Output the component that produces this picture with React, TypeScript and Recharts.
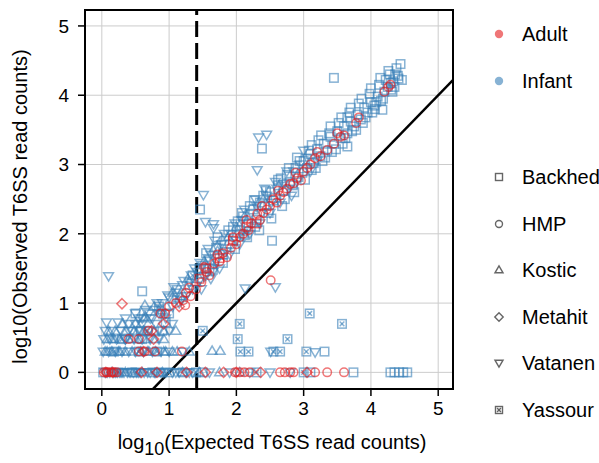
import {
  ScatterChart,
  Scatter,
  XAxis,
  YAxis,
  CartesianGrid,
  ReferenceLine,
  ReferenceArea,
} from 'recharts';

type Pt = [number, number];

const AXIS_TICKS = [0, 1, 2, 3, 4, 5];
const X_DOMAIN: [number, number] = [-0.25, 5.22];
const Y_DOMAIN: [number, number] = [-0.24, 5.23];
const THRESHOLD_X = 1.41;

const RED = '#e41a1c';
const BLUE = '#377eb8';
const FONT = '"Liberation Sans", Arial, Helvetica, sans-serif';

// infant samples
const infantBackhed: Pt[] = [
  [1.45, 1.5], [1.6, 1.62], [1.7, 1.8], [1.82, 1.9], [1.9, 1.85], [1.95, 2.1], [2.05, 2.05],
  [2.1, 2.25], [2.18, 2.15], [2.25, 2.35], [2.3, 2.2], [2.35, 2.45], [2.42, 2.4], [2.5, 2.6],
  [2.55, 2.48], [2.62, 2.7], [2.7, 2.62], [2.75, 2.85], [2.8, 2.75], [2.88, 2.95], [2.92, 2.82],
  [3.0, 3.05], [3.05, 2.95], [3.1, 3.15], [3.15, 3.02], [3.2, 3.22], [3.25, 3.12], [3.3, 3.3],
  [3.35, 3.2], [3.4, 3.4], [3.45, 3.3], [3.5, 3.48], [3.55, 3.38], [3.6, 3.55], [3.65, 3.45],
  [3.7, 3.62], [3.75, 3.55], [3.8, 3.72], [3.85, 3.65], [3.9, 3.82], [3.95, 3.75], [4.0, 3.9],
  [4.05, 3.85], [4.1, 3.98], [4.15, 3.92], [4.2, 4.05], [4.25, 4.12], [4.3, 4.18], [4.35, 4.12],
  [2.02, 2.18], [2.12, 1.98], [2.2, 2.4], [2.28, 2.1], [2.4, 2.55], [2.48, 2.3], [2.58, 2.52],
  [2.66, 2.8], [2.72, 2.5], [2.84, 2.7], [2.9, 3.1], [2.98, 2.88], [3.08, 3.2], [3.12, 2.92],
  [3.22, 3.35], [3.28, 3.05], [3.38, 3.45], [3.42, 3.18], [3.52, 3.6], [3.58, 3.3], [3.68, 3.75],
  [3.72, 3.48], [3.82, 3.88], [3.88, 3.6], [3.98, 4.02], [4.02, 3.75], [4.12, 4.15], [4.08, 3.9],
  [4.22, 4.22], [4.28, 4.3], [4.32, 4.05], [4.4, 4.28],
  [1.55, 1.72], [1.65, 1.48], [1.72, 1.95], [1.8, 1.58], [1.88, 2.05], [1.98, 1.78], [2.08, 2.3],
  [2.16, 1.95], [2.26, 2.48], [2.34, 2.05], [2.44, 2.62], [2.52, 2.22], [2.62, 2.78], [2.68, 2.4],
  [2.78, 2.95], [2.86, 2.6], [2.94, 3.05], [3.02, 2.78], [3.12, 3.28], [3.18, 2.95], [3.26, 3.42],
  [3.32, 3.1], [3.4, 3.55], [3.48, 3.22], [3.56, 3.68], [3.62, 3.38], [3.7, 3.82], [3.78, 3.5],
  [3.86, 3.95], [3.92, 3.68], [4.0, 4.1], [4.06, 3.8], [4.14, 4.25], [4.18, 3.95], [4.26, 4.35],
  [4.33, 4.2], [4.36, 4.3], [4.3, 4.08],
  [4.38, 4.39], [4.44, 4.45], [4.41, 4.24], [4.46, 4.22], [4.17, 3.79], [3.65, 3.26], [3.65, 3.68],
  [3.45, 4.25], [2.38, 3.23], [2.53, 1.9], [1.46, 2.35], [0.6, 1.17], [0.5, 0.85],
  [0.02, 0], [0.45, 0], [0.85, 0], [1.2, 0], [1.5, 0], [3.1, 0], [3.74, 0], [4.29, 0], [4.35, 0],
  [4.42, 0], [4.48, 0], [4.54, 0], [3.31, 0.3], [0.6, 0.48], [0.9, 0.6], [0.95, 0.72], [0.58, 0.6],
  [1.0, 0.85],
];

const infantKostic: Pt[] = [
  [0.64, 0.97], [1.64, 0.31], [1.76, 0.31],
  [0.5, 0.7], [0.65, 0.8], [0.78, 0.95], [0.9, 0.9], [1.05, 1.15], [1.18, 1.1], [1.28, 1.35],
  [1.4, 1.3], [1.52, 1.6], [1.65, 1.55], [1.72, 1.75], [1.88, 1.95], [2.0, 2.1], [2.12, 2.25],
  [2.25, 2.15], [2.4, 2.5],
  [0.15, 0], [0.35, 0], [0.6, 0], [0.9, 0], [1.2, 0], [1.45, 0], [1.75, 0], [2.05, 0],
  [0.08, 0.3], [0.25, 0.3], [0.45, 0.3], [0.7, 0.3], [0.95, 0.3], [0.15, 0.48], [0.4, 0.48],
  [0.65, 0.48], [0.2, 0.6], [0.48, 0.6], [0.78, 0.6], [0.3, 0.7], [0.62, 0.78],
  [0.05, 0.3], [0.15, 0.3], [0.27, 0.3], [0.35, 0.3], [0.58, 0.3], [0.68, 0.3], [0.8, 0.3],
  [0.92, 0.3], [1.05, 0.3], [1.12, 0.3], [1.3, 0.3],
  [0.08, 0.48], [0.18, 0.48], [0.27, 0.48], [0.45, 0.48], [0.55, 0.48], [0.78, 0.48], [0.92, 0.48],
  [0.1, 0.6], [0.35, 0.6], [0.62, 0.6], [0.92, 0.6], [1.1, 0.6],
];

const infantVatanen: Pt[] = [
  [0.1, 1.39], [1.07, 1.23], [1.51, 2.56], [1.54, 2.17], [1.66, 2.14], [1.66, 2.08], [2.31, 2.92],
  [2.58, 1.23], [2.13, 1.21], [2.33, 3.39], [2.45, 3.43], [2.51, 0.3], [3.17, 0.29],
  [0.45, 0.6], [0.6, 0.78], [0.7, 0.85], [0.8, 0.9], [0.9, 1.0], [0.95, 0.85], [1.0, 1.08],
  [1.1, 1.15], [1.15, 1.0], [1.2, 1.26], [1.3, 1.3], [1.35, 1.2], [1.42, 1.45], [1.5, 1.55],
  [1.55, 1.4], [1.62, 1.7], [1.7, 1.6], [1.78, 1.85], [1.85, 1.75], [1.92, 2.0], [2.0, 1.9],
  [2.08, 2.2], [2.15, 2.05], [2.22, 2.3], [2.3, 2.4], [2.38, 2.3], [2.45, 2.55], [2.52, 2.45],
  [2.6, 2.65], [2.7, 2.72], [2.78, 2.65], [2.85, 2.9], [2.95, 3.0], [3.05, 3.1], [1.48, 1.2],
  [1.62, 1.35], [1.25, 1.1], [1.38, 1.5], [1.45, 1.32], [1.58, 1.78], [1.68, 1.9], [1.75, 1.5],
  [1.82, 2.0], [1.9, 1.7], [1.98, 2.15], [2.05, 1.85], [2.12, 2.35], [2.2, 2.0], [2.28, 2.5],
  [2.35, 2.15], [2.42, 2.65], [2.5, 2.3], [2.58, 2.75], [2.65, 2.45], [2.75, 2.9], [2.82, 2.55],
  [2.9, 2.75], [3.0, 3.2], [3.1, 2.9], [3.2, 3.05],
  [0.35, 0.48], [0.5, 0.7], [0.58, 0.6], [0.65, 0.9], [0.72, 0.78], [0.82, 1.0], [0.88, 0.85],
  [0.98, 1.11], [1.05, 0.95], [1.12, 1.2], [1.18, 1.04], [1.22, 1.32], [1.28, 1.15], [1.33, 1.4],
  [1.4, 1.25], [1.46, 1.58], [1.52, 1.38], [1.58, 1.65], [1.65, 1.45], [1.72, 1.8],
  [0.05, 0], [0.12, 0], [0.2, 0], [0.3, 0], [0.42, 0], [0.55, 0], [0.68, 0], [0.8, 0], [0.95, 0],
  [1.1, 0], [1.3, 0], [1.6, 0], [1.9, 0], [2.2, 0], [2.5, 0], [2.8, 0],
  [0.08, 0], [0.17, 0], [0.23, 0], [0.27, 0], [0.33, 0], [0.38, 0], [0.47, 0], [0.52, 0], [0.58, 0],
  [0.63, 0], [0.72, 0], [0.78, 0], [0.88, 0], [0.92, 0], [1.05, 0], [1.15, 0], [1.25, 0], [1.35, 0],
  [0.02, 0.3], [0.1, 0.3], [0.2, 0.3], [0.3, 0.3], [0.4, 0.3], [0.5, 0.3], [0.62, 0.3],
  [0.75, 0.3], [0.88, 0.3], [1.0, 0.3], [1.2, 0.3],
  [0.03, 0.48], [0.12, 0.48], [0.22, 0.48], [0.35, 0.48], [0.48, 0.48], [0.6, 0.48], [0.72, 0.48],
  [0.85, 0.48],
  [0.05, 0.6], [0.15, 0.6], [0.28, 0.6], [0.4, 0.6], [0.55, 0.6], [0.7, 0.6], [0.85, 0.6], [1.0, 0.6],
  [0.07, 0.72], [0.24, 0.72], [0.4, 0.7], [0.6, 0.7], [0.8, 0.7], [1.05, 0.7],
  [0.35, 0.78], [0.55, 0.78], [0.75, 0.78], [0.95, 0.78], [0.5, 0.85], [0.85, 0.85],
];

const infantYassour: Pt[] = [
  [3.09, 0.85], [2.05, 0.7], [3.57, 0.7], [2.02, 0.48], [2.76, 0.48], [1.5, 0.6], [2.06, 0.3],
  [2.18, 0.3], [2.55, 0.3], [2.65, 0.3], [3.04, 0.3],
  [0.25, 0], [0.5, 0], [0.75, 0], [1.0, 0], [1.4, 0], [2.3, 0], [3.0, 0], [0.18, 0.3], [0.55, 0.3],
  [0.82, 0.3], [0.3, 0.48], [0.68, 0.6],
  [0.85, 0.95], [1.12, 1.08], [1.35, 1.4], [1.6, 1.5], [1.8, 1.7], [2.1, 2.0],
];

// adult samples
const adultBackhed: Pt[] = [
  [1.45, 1.35], [1.55, 1.5], [1.75, 1.65], [1.95, 1.9], [2.15, 2.1], [2.3, 2.15],
];

const adultHMP: Pt[] = [
  [1.0, 0.95], [1.1, 1.0], [1.21, 1.04], [1.25, 1.15], [1.32, 1.1], [1.4, 1.2], [1.48, 1.3],
  [1.56, 1.45], [1.6, 1.4], [1.67, 1.57], [1.75, 1.6], [1.8, 1.72], [1.86, 1.66], [1.92, 1.8],
  [2.0, 1.85], [2.05, 1.95], [2.1, 2.0], [2.18, 2.05], [2.22, 2.15], [2.31, 2.29], [2.35, 2.2],
  [2.4, 2.3], [2.45, 2.35], [2.5, 2.4], [2.55, 2.5], [2.6, 2.45], [2.65, 2.55], [2.7, 2.6],
  [2.75, 2.65], [2.8, 2.72], [2.85, 2.73], [2.9, 2.8], [2.96, 2.77], [3.0, 2.9], [3.05, 2.95],
  [3.1, 3.0], [3.17, 3.09], [3.25, 3.12], [3.35, 3.21], [3.45, 3.3], [3.55, 3.4], [3.6, 3.42],
  [3.78, 3.6], [3.82, 3.68], [4.2, 4.05], [4.26, 4.12], [4.29, 4.15], [2.51, 1.33],
  [1.3, 1.22], [1.52, 1.52], [1.72, 1.7], [1.95, 1.95], [2.15, 2.2], [2.38, 2.4], [2.62, 2.62],
  [2.88, 2.88], [3.2, 3.18], [3.5, 3.45],
  [0.03, 0], [0.07, 0], [0.1, 0], [0.14, 0], [0.18, 0], [0.22, 0], [1.98, 0], [2.05, 0], [2.12, 0],
  [2.2, 0], [2.65, 0], [2.72, 0], [2.8, 0], [2.85, 0], [3.17, 0], [3.35, 0], [3.6, 0],
  [0.55, 0.3], [0.64, 0.3], [0.79, 0.3], [1.19, 0.3], [0.4, 0.48], [0.55, 0.48], [0.69, 0.6],
  [0.87, 0.85], [0.94, 0.85], [1.24, 0.97],
];

const adultMetahit: Pt[] = [
  [0.3, 0.99], [0.06, 0], [0.16, 0], [0.59, 0], [0.82, 0], [1.26, 0], [1.54, 0], [1.81, 0], [2.0, 0],
  [2.36, 0], [3.05, 0], [0.62, 0.3], [0.77, 0.48], [0.74, 0.6], [0.92, 0.7], [1.15, 0.95],
];

const AGE_GROUPS = ['Adult', 'Infant'];
const COHORTS = ['Backhed', 'HMP', 'Kostic', 'Metahit', 'Vatanen', 'Yassour'];

type Kind = 'square' | 'circle' | 'up' | 'diamond' | 'down' | 'boxx';

const COHORT_KIND: Record<string, Kind> = {
  Backhed: 'square',
  HMP: 'circle',
  Kostic: 'up',
  Metahit: 'diamond',
  Vatanen: 'down',
  Yassour: 'boxx',
};

const SERIES: { name: string; cohort: string; color: string; data: Pt[] }[] = [
  { name: 'Infant Backhed', cohort: 'Backhed', color: BLUE, data: infantBackhed },
  { name: 'Infant Kostic', cohort: 'Kostic', color: BLUE, data: infantKostic },
  { name: 'Infant Vatanen', cohort: 'Vatanen', color: BLUE, data: infantVatanen },
  { name: 'Infant Yassour', cohort: 'Yassour', color: BLUE, data: infantYassour },
  { name: 'Adult Backhed', cohort: 'Backhed', color: RED, data: adultBackhed },
  { name: 'Adult HMP', cohort: 'HMP', color: RED, data: adultHMP },
  { name: 'Adult Metahit', cohort: 'Metahit', color: RED, data: adultMetahit },
];

function MarkerGlyph({ kind, cx, cy, color, s, sw, opacity }: {
  kind: Kind; cx: number; cy: number; color: string; s: number; sw: number; opacity: number;
}) {
  const r = s / 2;
  const common = { fill: 'none', stroke: color, strokeWidth: sw, strokeOpacity: opacity };
  switch (kind) {
    case 'square':
      return <rect x={cx - r} y={cy - r} width={s} height={s} {...common} />;
    case 'circle':
      return <circle cx={cx} cy={cy} r={r} {...common} />;
    case 'up': {
      const h = r * 1.15;
      return <polygon points={`${cx},${cy - h} ${cx - h},${cy + h * 0.7} ${cx + h},${cy + h * 0.7}`} {...common} />;
    }
    case 'down': {
      const h = r * 1.15;
      return <polygon points={`${cx},${cy + h} ${cx - h},${cy - h * 0.7} ${cx + h},${cy - h * 0.7}`} {...common} />;
    }
    case 'diamond': {
      const h = r * 1.2;
      return <polygon points={`${cx},${cy - h} ${cx + h},${cy} ${cx},${cy + h} ${cx - h},${cy}`} {...common} />;
    }
    case 'boxx':
      return (
        <g {...common}>
          <rect x={cx - r} y={cy - r} width={s} height={s} />
          <line x1={cx - r * 0.55} y1={cy - r * 0.55} x2={cx + r * 0.55} y2={cy + r * 0.55} />
          <line x1={cx - r * 0.55} y1={cy + r * 0.55} x2={cx + r * 0.55} y2={cy - r * 0.55} />
        </g>
      );
  }
  return null;
}

function makeShape(kind: Kind, color: string) {
  return (props: any) => {
    const { cx, cy } = props;
    if (cx == null || cy == null) return <g />;
    return <MarkerGlyph kind={kind} cx={cx} cy={cy} color={color} s={8.5} sw={1.5} opacity={0.6} />;
  };
}

function XLabel({ viewBox }: any) {
  const x = viewBox.x + viewBox.width / 2 + 3;
  const y = viewBox.y + 60;
  return (
    <text x={x} y={y} textAnchor="middle" fontFamily={FONT} fontSize={20} fill="#000">
      <tspan>log</tspan>
      <tspan fontSize={18} dy={6}>10</tspan>
      <tspan dy={-6}>(Expected T6SS read counts)</tspan>
    </text>
  );
}

function YLabel({ viewBox }: any) {
  const x = viewBox.x + 27;
  const y = viewBox.y + viewBox.height / 2 + 7;
  return (
    <text x={x} y={y} textAnchor="middle" fontFamily={FONT} fontSize={20} fill="#000"
      transform={`rotate(-90, ${x}, ${y})`}>
      log10(Observed T6SS read counts)
    </text>
  );
}

function LegendPanel() {
  const row = (label: string, top: number, glyph: any) => (
    <div key={label} style={{ position: 'absolute', left: 0, top: top - 14, height: 28, display: 'flex', alignItems: 'center' }}>
      <svg width={30} height={28} style={{ display: 'block' }}>{glyph}</svg>
      <span style={{ marginLeft: 8, fontSize: 20, fontFamily: FONT, color: '#000' }}>{label}</span>
    </div>
  );
  const ageTops = [34, 81];
  const cohortTops = [177, 224, 270, 317, 363, 410];
  return (
    <div style={{ position: 'absolute', left: 484, top: 0, width: 115, height: 463 }}>
      {AGE_GROUPS.map((g, i) =>
        row(g, ageTops[i], <circle cx={15} cy={14} r={4.2} fill={g === 'Adult' ? RED : BLUE} fillOpacity={0.6} />),
      )}
      {COHORTS.map((c, i) =>
        row(c, cohortTops[i], <MarkerGlyph kind={COHORT_KIND[c]} cx={15} cy={14} color="#555" s={7} sw={1.4} opacity={0.9} />),
      )}
    </div>
  );
}

export default function App() {
  return (
    <div style={{ position: 'absolute', left: 0, top: 0, width: 599, height: 463, background: '#fff' }}>
      <ScatterChart width={599} height={463} margin={{ top: 10, right: 146, bottom: 0, left: 0 }}>
        <CartesianGrid stroke="#cccccc" strokeWidth={1} horizontalValues={AXIS_TICKS} verticalValues={AXIS_TICKS} />
        <XAxis
          type="number"
          dataKey="x"
          domain={X_DOMAIN}
          ticks={AXIS_TICKS}
          allowDataOverflow
          height={74}
          tickSize={7}
          tickMargin={6}
          axisLine={{ stroke: '#000', strokeWidth: 2 }}
          tickLine={{ stroke: '#000', strokeWidth: 1.5 }}
          tick={{ fill: '#000', fontSize: 19, fontFamily: FONT }}
          label={<XLabel />}
        />
        <YAxis
          type="number"
          dataKey="y"
          domain={Y_DOMAIN}
          ticks={AXIS_TICKS}
          allowDataOverflow
          width={85}
          tickSize={7}
          tickMargin={9}
          axisLine={{ stroke: '#000', strokeWidth: 2 }}
          tickLine={{ stroke: '#000', strokeWidth: 1.5 }}
          tick={{ fill: '#000', fontSize: 19, fontFamily: FONT }}
          label={<YLabel />}
        />
        {SERIES.map((s) => (
          <Scatter
            key={s.name}
            name={s.name}
            data={s.data.map(([x, y]) => ({ x, y }))}
            shape={makeShape(COHORT_KIND[s.cohort], s.color)}
            isAnimationActive={false}
          />
        ))}
        <ReferenceLine x={THRESHOLD_X} stroke="#000" strokeWidth={3} strokeDasharray="16 6" />
        <ReferenceLine
          segment={[{ x: -0.25, y: -1.25 }, { x: 5.25, y: 4.25 }]}
          stroke="#000"
          strokeWidth={2.5}
          ifOverflow="hidden"
        />
        <ReferenceArea
          x1={X_DOMAIN[0]}
          x2={X_DOMAIN[1]}
          y1={Y_DOMAIN[0]}
          y2={Y_DOMAIN[1]}
          fill="none"
          fillOpacity={0}
          stroke="#000"
          strokeWidth={2}
          ifOverflow="visible"
        />
      </ScatterChart>
      <LegendPanel />
    </div>
  );
}
